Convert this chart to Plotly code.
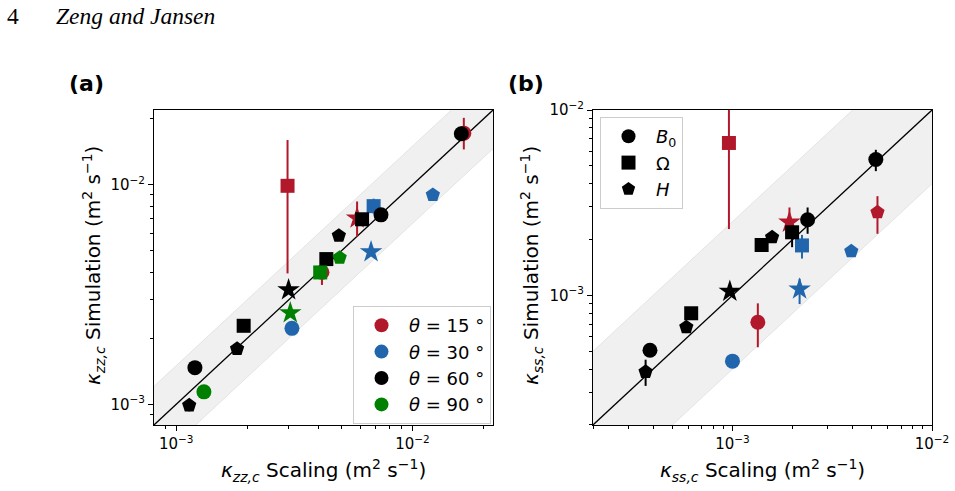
import plotly.graph_objects as go
import numpy as np

# ---------------- data ----------------
# Panel (a): kappa_zz,c  scaling (x) vs simulation (y)
A_RED_X = [2.96e-3, 5.83e-3, 4.14e-3, 1.65e-2]
A_RED_Y = [9.9e-3, 7.05e-3, 4.0e-3, 1.72e-2]
A_RED_SYM = ["square", "star", "circle", "circle"]
A_RED_HI = [1.6e-2, 8.4e-3, 4.3e-3, 2.02e-2]
A_RED_LO = [3.95e-3, 5.8e-3, 3.5e-3, 1.45e-2]

A_BLUE_X = [3.09e-3, 6.85e-3, 6.68e-3, 1.22e-2]
A_BLUE_Y = [2.22e-3, 8.0e-3, 4.95e-3, 9.0e-3]
A_BLUE_SYM = ["circle", "square", "star", "pentagon"]
A_BLUE_HI = [2.22e-3, 8.65e-3, 5.2e-3, 9.0e-3]
A_BLUE_LO = [2.22e-3, 7.4e-3, 4.75e-3, 9.0e-3]

A_BLACK_X = [1.20e-3, 1.135e-3, 1.81e-3, 1.93e-3, 2.99e-3, 4.32e-3, 4.88e-3, 6.12e-3, 7.36e-3, 1.61e-2]
A_BLACK_Y = [1.47e-3, 9.9e-4, 1.79e-3, 2.28e-3, 3.32e-3, 4.59e-3, 5.87e-3, 6.97e-3, 7.3e-3, 1.71e-2]
A_BLACK_SYM = ["circle", "pentagon", "pentagon", "square", "star", "square", "pentagon", "square", "circle", "circle"]
A_BLACK_HI = [1.47e-3, 1.05e-3, 1.84e-3, 2.28e-3, 3.32e-3, 4.59e-3, 5.87e-3, 6.97e-3, 7.5e-3, 1.75e-2]
A_BLACK_LO = [1.47e-3, 9.3e-4, 1.74e-3, 2.28e-3, 3.32e-3, 4.59e-3, 5.87e-3, 6.97e-3, 7.1e-3, 1.67e-2]

A_GREEN_X = [1.31e-3, 3.04e-3, 4.07e-3, 4.92e-3]
A_GREEN_Y = [1.14e-3, 2.61e-3, 3.99e-3, 4.66e-3]
A_GREEN_SYM = ["circle", "star", "square", "pentagon"]
A_GREEN_HI = [1.14e-3, 2.61e-3, 3.99e-3, 4.66e-3]
A_GREEN_LO = [1.14e-3, 2.61e-3, 3.99e-3, 4.66e-3]

# Panel (b): kappa_ss,c  scaling (x) vs simulation (y)
B_RED_X = [9.6e-4, 1.93e-3, 1.34e-3, 5.33e-3]
B_RED_Y = [6.64e-3, 2.48e-3, 7.17e-4, 2.81e-3]
B_RED_SYM = ["square", "star", "circle", "pentagon"]
B_RED_HI = [1.3e-2, 2.98e-3, 9.06e-4, 3.43e-3]
B_RED_LO = [2.28e-3, 2.02e-3, 5.25e-4, 2.15e-3]

B_BLUE_X = [1.0e-3, 2.23e-3, 2.17e-3, 3.94e-3]
B_BLUE_Y = [4.42e-4, 1.86e-3, 1.08e-3, 1.73e-3]
B_BLUE_SYM = ["circle", "square", "star", "pentagon"]
B_BLUE_HI = [4.42e-4, 2.12e-3, 1.23e-3, 1.73e-3]
B_BLUE_LO = [4.42e-4, 1.58e-3, 8.98e-4, 1.73e-3]

B_BLACK_X = [3.86e-4, 3.67e-4, 5.87e-4, 6.21e-4, 9.7e-4, 1.40e-3, 1.58e-3, 1.99e-3, 2.38e-3, 5.23e-3]
B_BLACK_Y = [5.06e-4, 3.87e-4, 6.74e-4, 8.01e-4, 1.05e-3, 1.87e-3, 2.06e-3, 2.19e-3, 2.56e-3, 5.41e-3]
B_BLACK_SYM = ["circle", "pentagon", "pentagon", "square", "star", "square", "pentagon", "square", "circle", "circle"]
B_BLACK_HI = [5.06e-4, 4.5e-4, 7.17e-4, 8.01e-4, 1.05e-3, 1.98e-3, 2.06e-3, 2.38e-3, 2.98e-3, 6.1e-3]
B_BLACK_LO = [5.06e-4, 3.25e-4, 6.26e-4, 8.01e-4, 1.05e-3, 1.77e-3, 2.06e-3, 1.82e-3, 2.15e-3, 4.68e-3]

THETA_LABELS = ["15", "30", "60", "90"]
PARAM_LABELS = ["<i>B</i><sub>0</sub>", "Ω", "<i>H</i>"]
PARAM_SYMBOLS = ["circle", "square", "pentagon"]

RANGE_A = [-3.094, -1.659]
RANGE_B = [-3.699, -2.0]
BAND_A = 1.5
BAND_B = 2.5

# ---------------- styling ----------------
RED = "#b2182b"
BLUE = "#2166ac"
BLACK = "#000000"
GREEN = "#008000"
FONT = "DejaVu Sans"
SIZE_OF = {"circle": 15, "square": 14, "pentagon": 15, "star": 17}

fig = go.Figure()


def add_band(xa, ya, rng, factor):
    xs = np.array([10 ** (rng[0] - 1), 10 ** (rng[1] + 1)])
    px = np.concatenate([xs, xs[::-1]])
    py = np.concatenate([xs * factor, xs[::-1] / factor])
    fig.add_trace(go.Scatter(x=px, y=py, fill="toself", fillcolor="#f0f0f0",
                             line=dict(color="#e4e4e4", width=1), mode="lines",
                             hoverinfo="skip", showlegend=False, xaxis=xa, yaxis=ya))
    fig.add_trace(go.Scatter(x=xs, y=xs, mode="lines", line=dict(color="black", width=1.3),
                             showlegend=False, xaxis=xa, yaxis=ya))


def add_points(xa, ya, x, y, sym, hi, lo, color):
    y = np.array(y)
    fig.add_trace(go.Scatter(
        x=x, y=y, mode="markers",
        marker=dict(color=color, symbol=sym, size=[SIZE_OF[s] for s in sym],
                    opacity=1, line=dict(width=0)),
        error_y=dict(type="data", symmetric=False, array=list(np.array(hi) - y),
                     arrayminus=list(y - np.array(lo)), color=color, thickness=2, width=0),
        showlegend=False, xaxis=xa, yaxis=ya))


add_band("x", "y", RANGE_A, BAND_A)
add_band("x2", "y2", RANGE_B, BAND_B)

add_points("x", "y", A_RED_X, A_RED_Y, A_RED_SYM, A_RED_HI, A_RED_LO, RED)
add_points("x", "y", A_BLUE_X, A_BLUE_Y, A_BLUE_SYM, A_BLUE_HI, A_BLUE_LO, BLUE)
add_points("x", "y", A_BLACK_X, A_BLACK_Y, A_BLACK_SYM, A_BLACK_HI, A_BLACK_LO, BLACK)
add_points("x", "y", A_GREEN_X, A_GREEN_Y, A_GREEN_SYM, A_GREEN_HI, A_GREEN_LO, GREEN)

add_points("x2", "y2", B_RED_X, B_RED_Y, B_RED_SYM, B_RED_HI, B_RED_LO, RED)
add_points("x2", "y2", B_BLUE_X, B_BLUE_Y, B_BLUE_SYM, B_BLUE_HI, B_BLUE_LO, BLUE)
add_points("x2", "y2", B_BLACK_X, B_BLACK_Y, B_BLACK_SYM, B_BLACK_HI, B_BLACK_LO, BLACK)

# legend entries
for lab, col in zip(THETA_LABELS, [RED, BLUE, BLACK, GREEN]):
    fig.add_trace(go.Scatter(x=[None], y=[None], mode="markers",
                             marker=dict(color=col, symbol="circle", size=14),
                             name=f"<i>θ</i> = {lab} °", legend="legend", legendgroup=lab,
                             xaxis="x", yaxis="y"))
for lab, s in zip(PARAM_LABELS, PARAM_SYMBOLS):
    fig.add_trace(go.Scatter(x=[None], y=[None], mode="markers",
                             marker=dict(color="black", symbol=s, size=14),
                             name=lab, legend="legend2", legendgroup=s,
                             xaxis="x2", yaxis="y2"))


def minor_vals(lo, hi):
    vals = []
    for d in range(int(np.floor(lo)), int(np.ceil(hi)) + 1):
        for m in range(2, 10):
            v = m * 10.0 ** d
            if lo <= np.log10(v) <= hi:
                vals.append(v)
    return vals


def axis(rng, domain, anchor):
    return dict(type="log", range=rng, domain=domain, anchor=anchor, automargin=False,
                showgrid=False, zeroline=False, showline=True, mirror=True,
                linecolor="black", linewidth=1,
                ticks="outside", ticklen=5, tickwidth=1, tickcolor="black",
                tickmode="array", tickvals=[1e-3, 1e-2],
                ticktext=["10<sup>−3</sup>", "10<sup>−2</sup>"],
                tickfont=dict(family=FONT, size=15, color="black"),
                minor=dict(tickmode="array", tickvals=minor_vals(*rng), ticks="outside",
                           ticklen=3, tickwidth=1, tickcolor="black", showgrid=False))


YDOM = [1 - 425 / 491, 1 - 110 / 491]
fig.update_layout(
    template="none",
    width=955, height=491, margin=dict(l=0, r=0, t=0, b=0, pad=0, autoexpand=False),
    paper_bgcolor="white", plot_bgcolor="white",
    font=dict(family=FONT, color="black"),
    xaxis=axis(RANGE_A, [154 / 955, 493 / 955], "y"),
    yaxis=axis(RANGE_A, YDOM, "x"),
    xaxis2=axis(RANGE_B, [593 / 955, 932 / 955], "y2"),
    yaxis2=axis(RANGE_B, YDOM, "x2"),
    legend=dict(x=491 / 955, y=1 - 306 / 491, xanchor="right", yanchor="top",
                bgcolor="rgba(255,255,255,0.85)", bordercolor="#cccccc", borderwidth=1,
                font=dict(family=FONT, size=18), tracegroupgap=0, itemsizing="trace",
                itemwidth=45),
    legend2=dict(x=600 / 955, y=1 - 117 / 491, xanchor="left", yanchor="top",
                 bgcolor="rgba(255,255,255,0.85)", bordercolor="#cccccc", borderwidth=1,
                 font=dict(family=FONT, size=18), tracegroupgap=0, itemsizing="trace",
                 itemwidth=45),
)

ann = []
ann.append(dict(text="4", x=5 / 955, y=1 - 1 / 491, xref="paper", yref="paper",
                xanchor="left", yanchor="top", showarrow=False,
                font=dict(family="Liberation Serif", size=23.5)))
ann.append(dict(text="<i>Zeng and Jansen</i>", x=54 / 955, y=1 - 1 / 491, xref="paper", yref="paper",
                xanchor="left", yanchor="top", showarrow=False,
                font=dict(family="Liberation Serif", size=23.5)))
ann.append(dict(text="<b>(a)</b>", x=86 / 955, y=1 - 83 / 491, xref="paper", yref="paper",
                xanchor="center", yanchor="middle", showarrow=False, font=dict(family=FONT, size=22)))
ann.append(dict(text="<b>(b)</b>", x=526 / 955, y=1 - 83 / 491, xref="paper", yref="paper",
                xanchor="center", yanchor="middle", showarrow=False, font=dict(family=FONT, size=22)))
UNIT = " (m<sup>2</sup> s<sup>−1</sup>)"
ann.append(dict(text="<i>κ</i><sub><i>zz,c</i></sub> Scaling" + UNIT, x=323.5 / 955, y=1 - 470 / 491,
                xref="paper", yref="paper", xanchor="center", yanchor="middle", showarrow=False,
                font=dict(family=FONT, size=20)))
ann.append(dict(text="<i>κ</i><sub><i>ss,c</i></sub> Scaling" + UNIT, x=762.5 / 955, y=1 - 470 / 491,
                xref="paper", yref="paper", xanchor="center", yanchor="middle", showarrow=False,
                font=dict(family=FONT, size=20)))
ann.append(dict(text="<i>κ</i><sub><i>zz,c</i></sub> Simulation" + UNIT, x=93 / 955, y=1 - 266 / 491,
                xref="paper", yref="paper", xanchor="center", yanchor="middle", showarrow=False,
                textangle=-90, font=dict(family=FONT, size=20)))
ann.append(dict(text="<i>κ</i><sub><i>ss,c</i></sub> Simulation" + UNIT, x=531 / 955, y=1 - 266 / 491,
                xref="paper", yref="paper", xanchor="center", yanchor="middle", showarrow=False,
                textangle=-90, font=dict(family=FONT, size=20)))
fig.update_layout(annotations=ann)

fig.write_html("out.html")
